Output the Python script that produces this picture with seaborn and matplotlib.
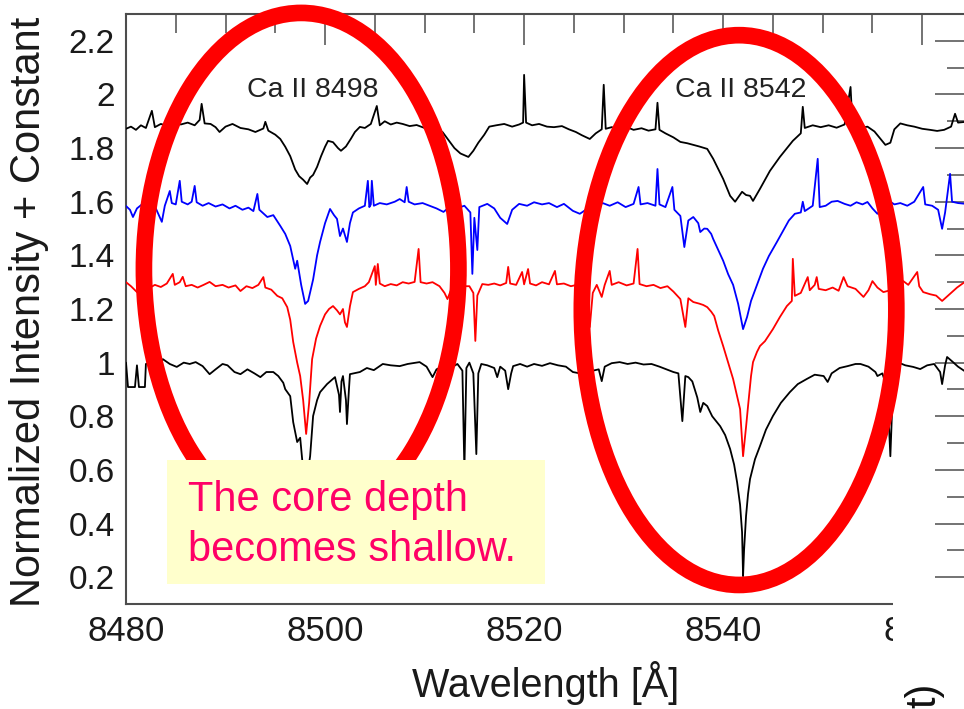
import matplotlib
matplotlib.use("Agg")
import matplotlib.pyplot as plt
import seaborn as sns
import pandas as pd
from matplotlib.patches import Ellipse, Rectangle
from matplotlib.ticker import MultipleLocator, FuncFormatter

# ---------------- data (wavelength [A], normalized intensity + constant) ----------------
top_black = [
    (8480.0, 1.872), (8480.5, 1.880), (8481.0, 1.868), (8481.5, 1.885), (8482.0, 1.875),
    (8482.6, 1.939), (8482.9, 1.878), (8483.5, 1.890), (8484.2, 1.882), (8484.9, 1.900),
    (8485.5, 1.888), (8486.2, 1.895), (8486.9, 1.885), (8487.4, 1.905), (8487.6, 1.965),
    (8487.9, 1.892), (8488.5, 1.890), (8489.0, 1.878), (8489.4, 1.860), (8490.0, 1.880),
    (8490.7, 1.890), (8491.5, 1.875), (8492.3, 1.870), (8493.0, 1.860), (8493.8, 1.873),
    (8494.0, 1.898), (8494.3, 1.865), (8495.0, 1.850), (8495.5, 1.834), (8496.0, 1.805),
    (8496.5, 1.770), (8497.0, 1.720), (8497.4, 1.695), (8497.8, 1.682), (8498.2, 1.666),
    (8498.5, 1.690), (8498.8, 1.700), (8499.2, 1.730), (8499.6, 1.770), (8500.0, 1.805),
    (8500.3, 1.827), (8500.8, 1.822), (8501.3, 1.800), (8501.6, 1.790), (8502.1, 1.806),
    (8502.6, 1.835), (8503.0, 1.860), (8503.5, 1.879), (8504.0, 1.875), (8504.6, 1.890),
    (8505.2, 1.957), (8505.5, 1.885), (8506.0, 1.900), (8506.6, 1.888), (8507.2, 1.895),
    (8507.8, 1.890), (8508.5, 1.882), (8509.2, 1.886), (8510.0, 1.875), (8510.6, 1.864),
    (8511.2, 1.870), (8511.8, 1.860), (8512.4, 1.830), (8513.0, 1.800), (8513.6, 1.780),
    (8514.4, 1.767), (8514.9, 1.790), (8515.4, 1.820), (8516.0, 1.850), (8516.5, 1.880),
    (8517.2, 1.885), (8518.0, 1.890), (8518.8, 1.880), (8519.5, 1.888), (8519.9, 1.895),
    (8520.0, 2.073), (8520.2, 1.895), (8520.8, 1.885), (8521.5, 1.890), (8522.3, 1.880),
    (8523.0, 1.878), (8523.8, 1.882), (8524.5, 1.870), (8525.2, 1.860), (8525.8, 1.848),
    (8526.6, 1.834), (8527.2, 1.855), (8527.8, 1.870), (8528.0, 2.036), (8528.2, 1.872),
    (8528.8, 1.878), (8529.5, 1.870), (8530.2, 1.880), (8531.0, 1.868), (8531.8, 1.874),
    (8532.5, 1.865), (8533.2, 1.870), (8533.4, 1.969), (8533.6, 1.868), (8534.2, 1.855),
    (8535.0, 1.840), (8535.7, 1.823), (8536.4, 1.818), (8537.0, 1.812), (8537.6, 1.806),
    (8538.4, 1.797), (8539.0, 1.760), (8540.0, 1.685), (8540.7, 1.622), (8541.2, 1.600),
    (8541.9, 1.637), (8542.3, 1.625), (8542.7, 1.622), (8543.0, 1.603), (8543.7, 1.648),
    (8544.7, 1.715), (8545.7, 1.767), (8547.0, 1.827), (8547.8, 1.855), (8548.0, 1.954),
    (8548.2, 1.875), (8549.0, 1.885), (8549.8, 1.878), (8550.6, 1.885), (8551.4, 1.876),
    (8552.2, 1.888), (8552.8, 2.028), (8553.0, 1.882), (8553.8, 1.875), (8554.5, 1.880),
    (8555.2, 1.862), (8555.8, 1.835), (8556.3, 1.812), (8556.8, 1.820), (8557.2, 1.870),
    (8557.8, 1.892), (8558.5, 1.885), (8559.2, 1.880), (8560.0, 1.872), (8560.8, 1.868),
    (8561.5, 1.864), (8562.2, 1.868), (8562.9, 1.880), (8563.3, 1.928), (8563.6, 1.895),
    (8564.4, 1.898),
]

blue_spec = [
    (8480.0, 1.584), (8480.4, 1.570), (8480.7, 1.543), (8481.1, 1.575), (8481.6, 1.590),
    (8482.1, 1.600), (8482.6, 1.585), (8483.0, 1.575), (8483.6, 1.525), (8483.9, 1.585),
    (8484.4, 1.640), (8484.6, 1.595), (8485.0, 1.590), (8485.4, 1.678), (8485.6, 1.600),
    (8486.2, 1.590), (8486.6, 1.600), (8486.9, 1.659), (8487.1, 1.598), (8487.7, 1.585),
    (8488.3, 1.595), (8489.0, 1.582), (8489.7, 1.590), (8490.4, 1.575), (8491.0, 1.585),
    (8491.7, 1.570), (8492.3, 1.578), (8492.8, 1.565), (8493.2, 1.629), (8493.4, 1.570),
    (8494.2, 1.543), (8494.8, 1.550), (8495.5, 1.510), (8496.0, 1.480), (8496.5, 1.435),
    (8497.0, 1.350), (8497.2, 1.380), (8497.6, 1.290), (8498.0, 1.219), (8498.3, 1.230),
    (8498.8, 1.310), (8499.2, 1.400), (8499.5, 1.450), (8500.0, 1.520), (8500.5, 1.573),
    (8500.9, 1.550), (8501.2, 1.536), (8501.5, 1.472), (8501.8, 1.500), (8502.2, 1.450),
    (8502.5, 1.520), (8502.8, 1.560), (8503.4, 1.575), (8504.0, 1.585), (8504.3, 1.678),
    (8504.45, 1.580), (8504.6, 1.590), (8504.7, 1.678), (8504.9, 1.585), (8505.5, 1.595),
    (8506.2, 1.590), (8507.0, 1.600), (8507.5, 1.610), (8508.0, 1.598), (8508.2, 1.655),
    (8508.4, 1.600), (8509.0, 1.590), (8509.8, 1.595), (8510.5, 1.585), (8511.2, 1.575),
    (8511.9, 1.562), (8512.5, 1.580), (8513.2, 1.575), (8514.0, 1.585), (8514.6, 1.560),
    (8514.8, 1.331), (8515.0, 1.540), (8515.3, 1.420), (8515.5, 1.580), (8516.3, 1.592),
    (8517.0, 1.575), (8517.6, 1.540), (8518.3, 1.517), (8518.8, 1.570), (8519.5, 1.592),
    (8520.3, 1.585), (8521.0, 1.598), (8521.8, 1.590), (8522.5, 1.595), (8523.3, 1.580),
    (8524.0, 1.592), (8524.9, 1.566), (8525.6, 1.555), (8526.2, 1.570), (8526.6, 1.413),
    (8527.0, 1.575), (8527.9, 1.595), (8528.6, 1.585), (8529.4, 1.598), (8530.2, 1.580),
    (8531.0, 1.592), (8531.5, 1.655), (8531.7, 1.590), (8532.4, 1.595), (8533.2, 1.585),
    (8533.4, 1.722), (8533.6, 1.590), (8534.2, 1.580), (8534.9, 1.655), (8535.1, 1.570),
    (8535.7, 1.547), (8536.1, 1.431), (8536.5, 1.530), (8537.0, 1.543), (8537.5, 1.520),
    (8537.7, 1.487), (8538.1, 1.500), (8538.4, 1.499), (8538.8, 1.480), (8539.0, 1.461),
    (8539.5, 1.420), (8540.0, 1.380), (8540.5, 1.330), (8541.0, 1.290), (8541.5, 1.220),
    (8542.0, 1.125), (8542.4, 1.170), (8542.8, 1.230), (8543.4, 1.290), (8544.0, 1.350),
    (8544.6, 1.398), (8545.4, 1.450), (8546.0, 1.490), (8546.6, 1.530), (8547.2, 1.555),
    (8547.8, 1.560), (8548.0, 1.600), (8548.2, 1.565), (8548.6, 1.575), (8549.0, 1.585),
    (8549.5, 1.760), (8549.7, 1.580), (8550.3, 1.585), (8550.9, 1.600), (8551.5, 1.603),
    (8552.2, 1.592), (8552.8, 1.585), (8553.4, 1.598), (8554.0, 1.590), (8554.5, 1.599),
    (8555.0, 1.575), (8555.5, 1.555), (8556.1, 1.580), (8556.8, 1.600), (8557.2, 1.590),
    (8557.8, 1.595), (8558.5, 1.585), (8559.2, 1.600), (8560.1, 1.655), (8560.3, 1.590),
    (8561.0, 1.585), (8561.6, 1.570), (8562.0, 1.499), (8562.3, 1.560), (8562.8, 1.704),
    (8563.0, 1.600), (8563.6, 1.595), (8564.4, 1.592),
]

red_spec = [
    (8480.0, 1.300), (8480.5, 1.285), (8481.1, 1.263), (8481.6, 1.280), (8482.2, 1.275),
    (8482.9, 1.290), (8483.5, 1.282), (8484.1, 1.295), (8484.7, 1.331), (8484.9, 1.290),
    (8485.4, 1.300), (8485.7, 1.320), (8486.0, 1.285), (8486.6, 1.290), (8487.2, 1.280),
    (8487.8, 1.290), (8488.4, 1.301), (8489.0, 1.285), (8489.7, 1.290), (8490.3, 1.280),
    (8491.0, 1.288), (8491.5, 1.267), (8492.1, 1.285), (8492.7, 1.278), (8493.3, 1.290),
    (8493.8, 1.319), (8494.0, 1.280), (8494.6, 1.272), (8495.2, 1.249), (8495.7, 1.240),
    (8496.2, 1.207), (8496.5, 1.160), (8496.8, 1.077), (8497.2, 1.000), (8497.5, 0.950),
    (8497.8, 0.860), (8498.1, 0.734), (8498.4, 0.850), (8498.7, 1.013), (8499.1, 1.090),
    (8499.5, 1.137), (8500.0, 1.180), (8500.4, 1.200), (8500.8, 1.211), (8501.2, 1.195),
    (8501.5, 1.180), (8501.8, 1.200), (8502.0, 1.150), (8502.2, 1.133), (8502.5, 1.210),
    (8502.8, 1.263), (8503.4, 1.275), (8504.0, 1.285), (8504.4, 1.300), (8505.0, 1.360),
    (8505.1, 1.290), (8505.3, 1.368), (8505.5, 1.295), (8506.0, 1.285), (8506.6, 1.293),
    (8507.2, 1.288), (8507.8, 1.300), (8508.4, 1.295), (8509.0, 1.301), (8509.4, 1.424),
    (8509.6, 1.300), (8510.2, 1.295), (8510.8, 1.300), (8511.5, 1.285), (8512.0, 1.260),
    (8512.3, 1.237), (8512.7, 1.275), (8513.3, 1.290), (8513.9, 1.285), (8514.5, 1.285),
    (8514.9, 1.260), (8515.1, 1.081), (8515.3, 1.250), (8515.8, 1.293), (8516.4, 1.290),
    (8517.0, 1.295), (8517.6, 1.288), (8518.2, 1.297), (8518.4, 1.357), (8518.6, 1.295),
    (8519.2, 1.290), (8519.8, 1.338), (8520.0, 1.292), (8520.4, 1.349), (8520.6, 1.295),
    (8521.2, 1.288), (8521.8, 1.300), (8522.5, 1.292), (8523.1, 1.342), (8523.3, 1.292),
    (8524.0, 1.295), (8524.7, 1.285), (8525.3, 1.290), (8526.0, 1.285), (8526.4, 1.250),
    (8526.6, 1.133), (8526.9, 1.260), (8527.3, 1.290), (8527.8, 1.245), (8528.1, 1.290),
    (8528.6, 1.342), (8528.8, 1.290), (8529.5, 1.300), (8530.3, 1.288), (8531.0, 1.295),
    (8531.4, 1.424), (8531.6, 1.293), (8532.3, 1.285), (8533.0, 1.290), (8533.7, 1.278),
    (8534.4, 1.285), (8535.0, 1.265), (8535.7, 1.237), (8536.2, 1.133), (8536.5, 1.240),
    (8537.0, 1.226), (8537.6, 1.220), (8538.0, 1.215), (8538.4, 1.207), (8538.8, 1.190),
    (8539.1, 1.174), (8539.5, 1.120), (8540.0, 1.062), (8540.5, 1.000), (8541.0, 0.939),
    (8541.5, 0.860), (8541.7, 0.827), (8542.0, 0.651), (8542.3, 0.760), (8542.5, 0.838),
    (8542.8, 0.950), (8543.0, 1.002), (8543.4, 1.040), (8543.7, 1.062), (8544.2, 1.080),
    (8545.0, 1.125), (8545.7, 1.170), (8546.4, 1.211), (8546.9, 1.230), (8547.0, 1.387),
    (8547.2, 1.249), (8547.8, 1.260), (8548.5, 1.319), (8548.7, 1.270), (8549.2, 1.290),
    (8549.4, 1.319), (8549.6, 1.275), (8550.3, 1.270), (8551.0, 1.280), (8551.6, 1.268),
    (8552.1, 1.319), (8552.5, 1.285), (8553.3, 1.275), (8554.1, 1.245), (8554.6, 1.270),
    (8555.0, 1.304), (8555.5, 1.280), (8556.1, 1.263), (8556.8, 1.270), (8557.4, 1.280),
    (8558.1, 1.304), (8558.6, 1.290), (8559.5, 1.338), (8559.7, 1.285), (8560.1, 1.263),
    (8560.8, 1.255), (8561.4, 1.250), (8562.0, 1.230), (8562.6, 1.250), (8563.5, 1.280),
    (8564.4, 1.304),
]

bottom_black = [
    (8480.0, 1.000), (8480.2, 0.909), (8480.9, 0.909), (8481.1, 0.990), (8481.3, 0.909),
    (8481.9, 0.909), (8482.0, 0.995), (8482.6, 1.005), (8483.2, 0.985), (8483.7, 1.013),
    (8484.4, 0.995), (8485.1, 0.984), (8485.8, 1.000), (8486.4, 0.995), (8487.0, 1.002),
    (8487.7, 0.987), (8488.4, 0.957), (8489.0, 0.975), (8489.7, 0.995), (8490.2, 0.990),
    (8490.9, 0.965), (8491.5, 0.957), (8492.2, 0.975), (8492.9, 0.960), (8493.5, 0.946),
    (8494.1, 0.965), (8494.8, 0.965), (8495.3, 0.950), (8495.8, 0.925), (8496.0, 0.901),
    (8496.5, 0.875), (8496.8, 0.778), (8497.2, 0.704), (8497.5, 0.720), (8497.8, 0.600),
    (8498.0, 0.560), (8498.3, 0.600), (8498.5, 0.651), (8498.8, 0.801), (8499.2, 0.860),
    (8499.5, 0.890), (8500.2, 0.920), (8501.0, 0.946), (8501.4, 0.880), (8501.5, 0.816),
    (8501.65, 0.930), (8501.8, 0.950), (8502.1, 0.860), (8502.2, 0.771), (8502.4, 0.900),
    (8502.5, 0.957), (8503.5, 0.965), (8504.2, 0.980), (8504.9, 0.972), (8505.8, 0.995),
    (8506.6, 0.990), (8507.5, 0.987), (8508.3, 0.995), (8509.5, 1.002), (8510.2, 0.985),
    (8510.8, 0.946), (8511.2, 0.975), (8511.9, 0.987), (8512.6, 0.980), (8513.3, 0.995),
    (8513.8, 0.970), (8514.0, 0.600), (8514.2, 0.980), (8514.5, 1.000), (8514.9, 0.960),
    (8515.2, 0.659), (8515.4, 0.960), (8515.7, 0.995), (8516.3, 0.990), (8517.0, 0.980),
    (8517.3, 0.946), (8517.6, 0.985), (8518.1, 0.970), (8518.4, 0.901), (8518.7, 0.960),
    (8518.9, 0.987), (8519.6, 0.995), (8520.3, 0.985), (8521.0, 0.995), (8521.8, 0.988),
    (8522.6, 0.998), (8523.4, 0.990), (8524.2, 0.985), (8524.9, 0.965), (8525.6, 0.960),
    (8526.2, 0.940), (8526.6, 0.890), (8526.9, 0.970), (8527.5, 0.975), (8527.8, 0.931),
    (8528.1, 0.985), (8528.8, 0.998), (8529.6, 1.002), (8530.4, 0.995), (8531.2, 1.000),
    (8532.0, 0.993), (8532.8, 0.995), (8533.6, 0.985), (8534.3, 0.975), (8535.0, 0.965),
    (8535.5, 0.960), (8535.9, 0.782), (8536.2, 0.950), (8536.5, 0.946), (8536.9, 0.930),
    (8537.4, 0.870), (8537.7, 0.816), (8538.0, 0.850), (8538.4, 0.838), (8538.9, 0.800),
    (8539.7, 0.763), (8540.2, 0.730), (8540.7, 0.678), (8541.1, 0.620), (8541.4, 0.554),
    (8541.7, 0.470), (8541.9, 0.368), (8542.0, 0.204), (8542.1, 0.300), (8542.3, 0.428),
    (8542.5, 0.510), (8542.7, 0.566), (8543.2, 0.640), (8543.7, 0.689), (8544.3, 0.750),
    (8545.0, 0.801), (8545.8, 0.850), (8546.7, 0.890), (8547.5, 0.920), (8548.4, 0.939),
    (8549.2, 0.955), (8550.1, 0.950), (8550.5, 0.928), (8550.9, 0.960), (8551.7, 0.980),
    (8552.5, 0.987), (8553.3, 0.995), (8553.8, 0.995), (8554.6, 0.985), (8555.3, 0.965),
    (8555.5, 0.950), (8556.0, 0.960), (8556.5, 0.900), (8556.8, 0.651), (8557.1, 0.950),
    (8557.5, 1.002), (8558.3, 0.990), (8559.1, 0.984), (8559.8, 0.976), (8560.5, 0.990),
    (8561.2, 0.995), (8561.8, 0.965), (8562.0, 0.920), (8562.3, 0.990), (8562.5, 1.021),
    (8563.0, 1.005), (8563.6, 0.985), (8564.4, 0.965),
]

series_names = ["bottom_black", "red", "blue", "top_black"]
series_data = [bottom_black, red_spec, blue_spec, top_black]
series_colors = ["#000000", "#ff0000", "#0000ff", "#000000"]

x_ticks = [8480, 8500, 8520, 8540, 8560]
y_ticks = [0.2, 0.4, 0.6, 0.8, 1.0, 1.2, 1.4, 1.6, 1.8, 2.0, 2.2]
line_labels = [("Ca II 8498", 8498.8, 1.991), ("Ca II 8542", 8541.8, 1.991)]
note_text = ["The core depth", "becomes shallow."]

# ---------------- figure ----------------
sns.set_theme(style="white")
plt.rcParams["font.family"] = ["Liberation Sans", "DejaVu Sans"]

W, H = 964, 709
fig = plt.figure(figsize=(W / 100, H / 100), dpi=100)
ax = fig.add_axes([126 / W, (H - 604) / H, 840 / W, 590 / H])

frames = []
for name, data in zip(series_names, series_data):
    wl, fl = zip(*data)
    frames.append(pd.DataFrame({"wavelength": wl, "flux": fl, "series": name}))
df = pd.concat(frames, ignore_index=True)

for name, col in zip(series_names, series_colors):
    sub = df[df["series"] == name]
    sns.lineplot(data=sub, x="wavelength", y="flux", color=col, linewidth=1.3,
                 estimator=None, sort=False, ax=ax, zorder=3)

ax.set_xlim(8480, 8564.4)
ax.set_ylim(0.1, 2.3)
ax.set_xlabel("")
ax.set_ylabel("")
ax.set_xticks(x_ticks)
ax.set_yticks(y_ticks)
ax.xaxis.set_minor_locator(MultipleLocator(5))
ax.yaxis.set_minor_locator(MultipleLocator(0.1))
ax.yaxis.set_major_formatter(FuncFormatter(lambda v, p: f"{v:g}"))
ax.xaxis.set_major_formatter(FuncFormatter(lambda v, p: f"{v:g}"))

spine_col = "#4d4d4d"
for s in ax.spines.values():
    s.set_color(spine_col)
    s.set_linewidth(1.5)
ax.tick_params(which="both", direction="in", top=True, right=True, color=spine_col,
               width=1.1, labelcolor="#1a1a1a")
ax.tick_params(which="major", length=22)
ax.tick_params(which="minor", length=14)
ax.tick_params(axis="x", which="major", labelsize=25, pad=8)
ax.tick_params(axis="y", which="major", labelsize=24, pad=8)

for txt, xx, yy in line_labels:
    ax.text(xx, yy, txt, ha="center", va="baseline", fontsize=20.5, color="#222222", zorder=4)

# red ellipses
e1 = Ellipse((8497.6, 1.349), 31.6, 1.91, fill=False, edgecolor="#ff0000",
             linewidth=12, zorder=5, clip_on=False)
e2 = Ellipse((8541.6, 1.196), 31.6, 2.05, fill=False, edgecolor="#ff0000",
             linewidth=12, zorder=5, clip_on=False)
ax.add_patch(e1)
ax.add_patch(e2)

# yellow note box
box = Rectangle((8484.1, 0.174), 38.0, 0.463, facecolor="#ffffcc", edgecolor="none",
                zorder=6, clip_on=False)
ax.add_patch(box)
ax.text(8486.2, 0.446, note_text[0], ha="left", va="baseline", fontsize=30,
        color="#ff0066", zorder=7)
ax.text(8486.2, 0.260, note_text[1], ha="left", va="baseline", fontsize=30,
        color="#ff0066", zorder=7)

# axis titles
fig.text(29 / W, (H - 312) / H, "Normalized Intensity + Constant", rotation=90,
         ha="center", va="center", fontsize=30, color="#1a1a1a")
fig.text(546 / W, 12 / H, "Wavelength [Å]", ha="center", va="baseline",
         fontsize=28.5, color="#1a1a1a")

# white cover at bottom right and fragment of neighbouring text
cover = Rectangle((893 / W, 0), 1 - 893 / W, 119 / H, transform=fig.transFigure,
                  facecolor="white", edgecolor="none", zorder=10)
fig.add_artist(cover)
fig.text(924 / W, (H - 683) / H, "t)", rotation=90, ha="center", va="top",
         fontsize=30, color="#111111", zorder=11)

fig.savefig("out.png", dpi=100)
